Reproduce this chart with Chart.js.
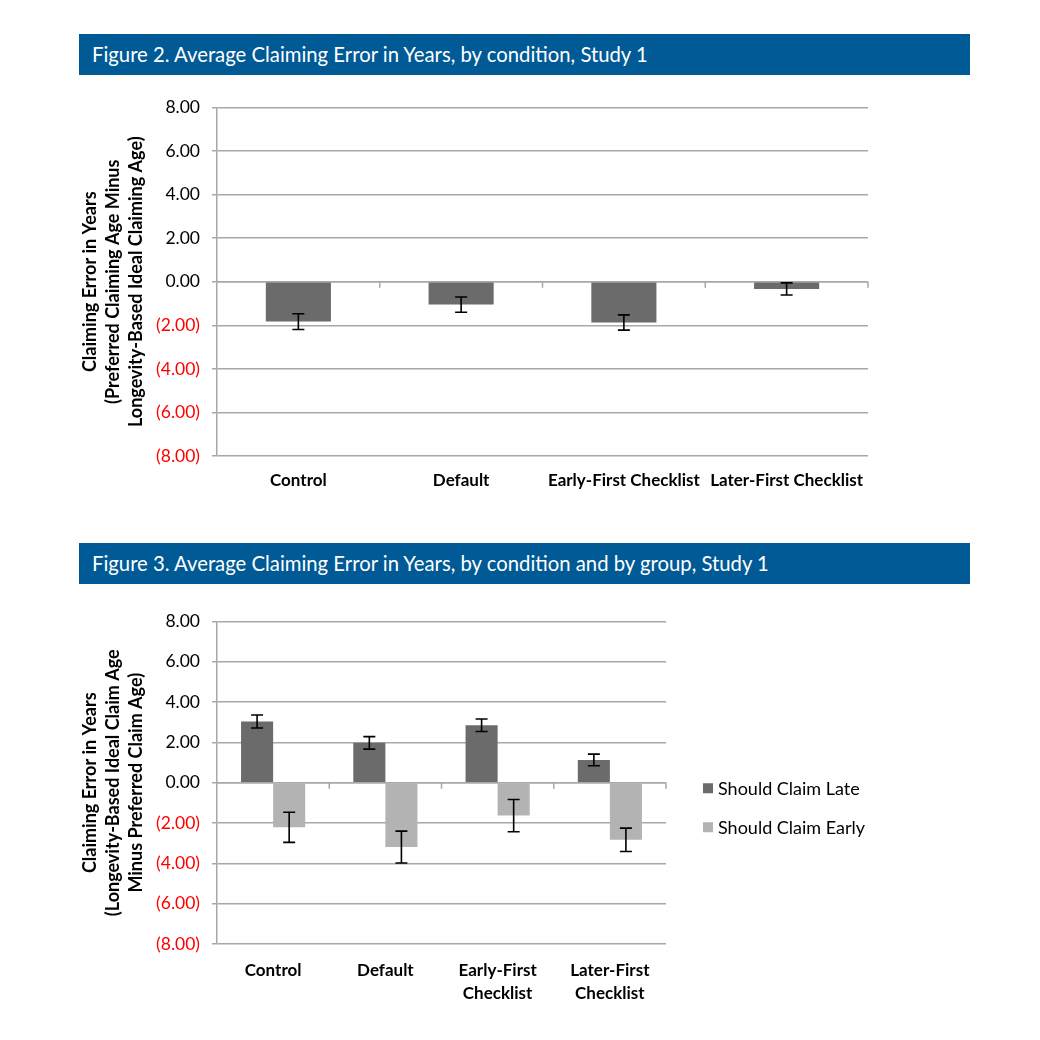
<!DOCTYPE html>
<html><head><meta charset="utf-8">
<script src="https://cdn.jsdelivr.net/npm/chart.js@4.4.1/dist/chart.umd.min.js"></script>
<style>
html,body{margin:0;padding:0;background:#fff;}
#page{position:relative;width:1040px;height:1040px;overflow:hidden;}
.banner{position:absolute;left:79px;width:891px;height:41px;background:#005a96;color:#fff;font-family:Lato,sans-serif;font-size:20.3px;line-height:41px;padding-left:13px;box-sizing:border-box;white-space:nowrap;}
.cv{position:absolute;}
</style></head><body>
<div id="page">
<div class="banner" style="top:34px">Figure 2. Average Claiming Error in Years, by condition, Study 1</div>
<div class="cv" style="left:70px;top:85px;"><canvas id="c1" width="820" height="420"></canvas></div>
<div class="banner" style="top:543px">Figure 3. Average Claiming Error in Years, by condition and by group, Study 1</div>
<div class="cv" style="left:70px;top:599px;"><canvas id="c2" width="880" height="420"></canvas></div>
</div>
<script>
// ---- data ----
const categories1 = ["Control", "Default", "Early-First Checklist", "Later-First Checklist"];
const fig2Values = [-1.83, -1.05, -1.87, -0.33];
const fig2Errors = [0.36, 0.35, 0.35, 0.28];

const categories2 = ["Control", "Default", ["Early-First", "Checklist"], ["Later-First", "Checklist"]];
const seriesNames = ["Should Claim Late", "Should Claim Early"];
const lateValues = [3.04, 1.98, 2.85, 1.13];
const lateErrors = [0.32, 0.31, 0.31, 0.29];
const earlyValues = [-2.21, -3.19, -1.63, -2.83];
const earlyErrors = [0.75, 0.79, 0.80, 0.58];

const yMin = -8, yMax = 8, yStep = 2;
const yTitle1 = ["Claiming Error in Years", "(Preferred Claiming Age Minus", "Longevity-Based Ideal Claiming Age)"];
const yTitle2 = ["Claiming Error in Years", "(Longevity-Based Ideal Claim Age", "Minus Preferred Claim Age)"];

// ---- styles ----
const FONT = "Lato, 'Open Sans', sans-serif";
const GRID = '#a8a8a8';
const DARK = '#6b6b6b';
const LIGHT = '#b3b3b3';

function fmtTick(v) {
  const s = Math.abs(v).toFixed(2);
  return v < 0 ? '(' + s + ')' : s;
}

const errorBarPlugin = {
  id: 'errorBars',
  afterDatasetsDraw(chart) {
    const ctx = chart.ctx, y = chart.scales.y;
    chart.data.datasets.forEach((ds, di) => {
      if (!ds.errors) return;
      const meta = chart.getDatasetMeta(di);
      meta.data.forEach((bar, i) => {
        const v = ds.data[i], e = ds.errors[i];
        const yt = y.getPixelForValue(v + e), yb = y.getPixelForValue(v - e);
        const cap = 6;
        ctx.save();
        ctx.strokeStyle = '#000';
        ctx.lineWidth = 1.6;
        ctx.beginPath();
        ctx.moveTo(bar.x, yt); ctx.lineTo(bar.x, yb);
        ctx.moveTo(bar.x - cap, yt); ctx.lineTo(bar.x + cap, yt);
        ctx.moveTo(bar.x - cap, yb); ctx.lineTo(bar.x + cap, yb);
        ctx.stroke();
        ctx.restore();
      });
    });
  }
};

const zeroAxisPlugin = {
  id: 'zeroAxis',
  beforeDatasetsDraw(chart) {
    const ctx = chart.ctx, x = chart.scales.x, y = chart.scales.y;
    const y0 = y.getPixelForValue(0);
    const n = chart.data.labels.length;
    ctx.save();
    ctx.strokeStyle = GRID;
    ctx.lineWidth = 1.5;
    ctx.beginPath();
    ctx.moveTo(x.left, y0); ctx.lineTo(x.right, y0);
    for (let i = 1; i <= n; i++) {
      const px = x.left + i * (x.right - x.left) / n;
      ctx.moveTo(px, y0); ctx.lineTo(px, y0 + 6);
    }
    ctx.stroke();
    ctx.restore();
  }
};

const sideLegendPlugin = {
  id: 'sideLegend',
  afterDraw(chart) {
    const ctx = chart.ctx, a = chart.chartArea;
    const mid = (a.top + a.bottom) / 2;
    const rows = [mid + 5.5, mid + 44.5];
    ctx.save();
    ctx.font = "18px " + FONT;
    ctx.textBaseline = 'middle';
    chart.data.datasets.forEach((ds, i) => {
      const yy = rows[i];
      ctx.fillStyle = ds.backgroundColor;
      ctx.fillRect(a.right + 37, yy - 5, 10, 10);
      ctx.fillStyle = '#000';
      ctx.fillText(ds.label, a.right + 52, yy + 1);
    });
    ctx.restore();
  }
};

function yScale(title, width) {
  return {
    min: yMin, max: yMax,
    ticks: {
      stepSize: yStep,
      padding: 12,
      font: { family: FONT, size: 17.5 },
      color: c => (c.tick && c.tick.value < 0) ? '#ff0000' : '#000000',
      callback: v => fmtTick(v)
    },
    grid: { color: GRID, lineWidth: 1.5, tickLength: 5, tickColor: GRID },
    border: { display: true, color: GRID, width: 1.5 },
    title: {
      display: true, text: title, color: '#000',
      font: { family: FONT, size: 18, weight: 'bold', lineHeight: 1.28 },
      padding: { top: 8.5, bottom: 0 }
    },
    afterFit: s => { s.width = width; }
  };
}

function xScale(height, pad) {
  return {
    grid: { display: false, drawTicks: false },
    border: { display: false },
    ticks: {
      padding: pad, color: '#000', maxRotation: 0, autoSkip: false,
      font: { family: FONT, size: 17, weight: 'bold', lineHeight: 1.35 }
    },
    afterFit: s => { s.height = height; }
  };
}

new Chart(document.getElementById('c1'), {
  type: 'bar',
  data: {
    labels: categories1,
    datasets: [{
      label: 'Claiming Error',
      data: fig2Values,
      errors: fig2Errors,
      backgroundColor: DARK,
      borderWidth: 0,
      barPercentage: 0.4,
      categoryPercentage: 1.0
    }]
  },
  options: {
    responsive: false, animation: false,
    devicePixelRatio: 1,
    layout: { padding: { top: 0, right: 22, bottom: 0, left: 0 } },
    plugins: { legend: { display: false }, tooltip: { enabled: false } },
    scales: { x: xScale(49, 13), y: yScale(yTitle1, 147) }
  },
  plugins: [zeroAxisPlugin, errorBarPlugin]
});

new Chart(document.getElementById('c2'), {
  type: 'bar',
  data: {
    labels: categories2,
    datasets: [
      { label: seriesNames[0], data: lateValues, errors: lateErrors, backgroundColor: DARK, borderWidth: 0, barPercentage: 1.0, categoryPercentage: 2 / 3.5 },
      { label: seriesNames[1], data: earlyValues, errors: earlyErrors, backgroundColor: LIGHT, borderWidth: 0, barPercentage: 1.0, categoryPercentage: 2 / 3.5 }
    ]
  },
  options: {
    responsive: false, animation: false,
    devicePixelRatio: 1,
    layout: { padding: { top: 0, right: 284, bottom: 0, left: 0 } },
    plugins: { legend: { display: false }, tooltip: { enabled: false } },
    scales: { x: xScale(75, 15), y: yScale(yTitle2, 147) }
  },
  plugins: [zeroAxisPlugin, errorBarPlugin, sideLegendPlugin]
});
</script>
</body></html>
